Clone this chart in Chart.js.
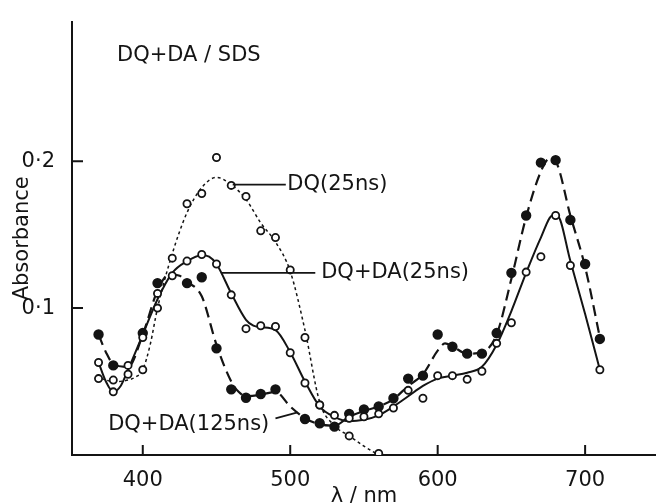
<!DOCTYPE html>
<html>
<head>
<meta charset="utf-8">
<script src="https://cdn.jsdelivr.net/npm/chart.js@4.4.1/dist/chart.umd.min.js"></script>
<style>
  html, body { margin: 0; padding: 0; background: #fff; }
  canvas { display: block; }
</style>
</head>
<body>
<canvas id="myChart" width="662" height="503"></canvas>
<script>
// measured points (nm, absorbance)
const dq25Nm   = [370, 380, 390, 400, 410, 420, 430, 440, 450, 460, 470, 480, 490, 500, 510, 520, 540, 560];
const dq25Abs  = [0.052, 0.051, 0.055, 0.058, 0.100, 0.134, 0.171, 0.178, 0.2025, 0.1835, 0.176, 0.1526, 0.148, 0.126, 0.080, 0.034, 0.013, 0.001];

const mix25Nm  = [370, 380, 390, 400, 410, 420, 430, 440, 450, 460, 470, 480, 490, 500, 510, 520, 530, 540, 550, 560, 570, 580, 590, 600, 610, 620, 630, 640, 650, 660, 670, 680, 690, 710];
const mix25Abs = [0.063, 0.043, 0.061, 0.080, 0.110, 0.122, 0.132, 0.1365, 0.130, 0.109, 0.086, 0.088, 0.0875, 0.0696, 0.049, 0.034, 0.027, 0.025, 0.026, 0.028, 0.032, 0.044, 0.0386, 0.054, 0.054, 0.0515, 0.057, 0.076, 0.090, 0.1245, 0.135, 0.163, 0.129, 0.058];

const mix125Nm  = [370, 380, 400, 410, 430, 440, 450, 460, 470, 480, 490, 510, 520, 530, 540, 550, 560, 570, 580, 590, 600, 610, 620, 630, 640, 650, 660, 670, 680, 690, 700, 710];
const mix125Abs = [0.082, 0.061, 0.083, 0.117, 0.117, 0.121, 0.0726, 0.0447, 0.039, 0.0415, 0.0447, 0.0245, 0.0216, 0.0193, 0.028, 0.031, 0.033, 0.0386, 0.052, 0.054, 0.082, 0.0737, 0.069, 0.069, 0.083, 0.124, 0.163, 0.199, 0.2007, 0.160, 0.130, 0.079];

// hand-drawn smooth curves through the points
const dq25CurveNm  = [372, 380, 390, 395, 400, 405, 410, 420, 430, 440, 450, 460, 470, 480, 490, 500, 510, 520, 530, 540, 550, 560];
const dq25CurveAbs = [0.052, 0.050, 0.051, 0.053, 0.058, 0.075, 0.100, 0.137, 0.165, 0.182, 0.189, 0.184, 0.174, 0.158, 0.145, 0.125, 0.085, 0.036, 0.020, 0.013, 0.006, 0.000];

const mix25CurveNm  = [370, 375, 380, 385, 390, 400, 410, 420, 430, 440, 445, 450, 460, 470, 475, 480, 490, 500, 510, 520, 530, 540, 550, 560, 570, 580, 590, 600, 610, 620, 630, 640, 650, 660, 670, 678, 681, 690, 700, 710];
const mix25CurveAbs = [0.063, 0.050, 0.043, 0.047, 0.058, 0.082, 0.106, 0.124, 0.132, 0.136, 0.135, 0.130, 0.110, 0.092, 0.088, 0.087, 0.085, 0.070, 0.050, 0.033, 0.026, 0.023, 0.024, 0.027, 0.033, 0.040, 0.047, 0.052, 0.054, 0.056, 0.060, 0.075, 0.098, 0.124, 0.148, 0.163, 0.163, 0.132, 0.096, 0.058];

const mix125CurveNm  = [370, 375, 380, 390, 400, 410, 418, 425, 430, 440, 450, 460, 465, 470, 480, 490, 500, 510, 520, 530, 540, 550, 560, 570, 580, 590, 600, 605, 610, 620, 630, 640, 650, 660, 670, 676, 680, 690, 700, 710];
const mix125CurveAbs = [0.082, 0.070, 0.062, 0.060, 0.082, 0.112, 0.123, 0.122, 0.118, 0.108, 0.075, 0.050, 0.043, 0.040, 0.041, 0.043, 0.033, 0.025, 0.021, 0.020, 0.026, 0.030, 0.033, 0.038, 0.047, 0.055, 0.071, 0.076, 0.074, 0.069, 0.070, 0.082, 0.120, 0.162, 0.193, 0.202, 0.200, 0.163, 0.128, 0.080];

const xTicks = [400, 500, 600, 700];
const yTicks = [0.1, 0.2];

const INK = '#141414';
const FONT = '"DejaVu Sans", sans-serif';

function pts(xs, ys) {
    return xs.map((x, i) => ({ x: x, y: ys[i] }));
}

function curve(xs, ys, dash, width) {
    return {
        data: pts(xs, ys),
        showLine: true,
        borderColor: INK,
        borderWidth: width,
        borderDash: dash,
        pointRadius: 0,
        cubicInterpolationMode: 'monotone',
        fill: false,
        order: 2
    };
}

function marks(xs, ys, filled) {
    return {
        data: pts(xs, ys),
        showLine: false,
        pointRadius: filled ? 4.3 : 3.6,
        pointBorderWidth: 1.8,
        pointBorderColor: INK,
        pointBackgroundColor: filled ? INK : '#fff',
        order: 1
    };
}

// inward ticks, labels and leader lines
const annotate = {
    id: 'annotate',
    afterDraw(chart) {
        const { ctx, scales: { x, y }, chartArea } = chart;
        ctx.save();
        ctx.strokeStyle = INK;
        ctx.lineWidth = 2;
        ctx.beginPath();
        xTicks.forEach(v => {
            const px = x.getPixelForValue(v);
            ctx.moveTo(px, chartArea.bottom);
            ctx.lineTo(px, chartArea.bottom - 10);
        });
        yTicks.forEach(v => {
            const py = y.getPixelForValue(v);
            ctx.moveTo(chartArea.left, py);
            ctx.lineTo(chartArea.left + 11, py);
        });
        ctx.stroke();

        ctx.fillStyle = INK;
        ctx.textBaseline = 'middle';
        ctx.font = '21px ' + FONT;
        ctx.fillText('DQ+DA / SDS', x.getPixelForValue(382.5), y.getPixelForValue(0.272));

        const notes = [
            { text: 'DQ(25ns)', from: [461, 0.184], to: [497, 0.184], at: [498, 0.184] },
            { text: 'DQ+DA(25ns)', from: [453, 0.124], to: [517, 0.124], at: [521, 0.124] },
            { text: 'DQ+DA(125ns)', from: [505, 0.029], to: [490, 0.025], at: [376.5, 0.021] }
        ];
        ctx.lineWidth = 1.8;
        notes.forEach(n => {
            ctx.beginPath();
            ctx.moveTo(x.getPixelForValue(n.from[0]), y.getPixelForValue(n.from[1]));
            ctx.lineTo(x.getPixelForValue(n.to[0]), y.getPixelForValue(n.to[1]));
            ctx.stroke();
            ctx.fillText(n.text, x.getPixelForValue(n.at[0]), y.getPixelForValue(n.at[1]));
        });
        ctx.restore();
    }
};

const ctx = document.getElementById('myChart').getContext('2d');
new Chart(ctx, {
    type: 'scatter',
    data: {
        datasets: [
            marks(dq25Nm, dq25Abs, false),
            marks(mix25Nm, mix25Abs, false),
            marks(mix125Nm, mix125Abs, true),
            curve(dq25CurveNm, dq25CurveAbs, [3, 3], 1.5),
            curve(mix25CurveNm, mix25CurveAbs, [], 2),
            curve(mix125CurveNm, mix125CurveAbs, [11, 6], 2.2)
        ]
    },
    options: {
        responsive: false,
        animation: false,
        layout: { padding: { left: 0, right: 0, top: 21, bottom: 0 } },
        plugins: { legend: { display: false }, tooltip: { enabled: false } },
        scales: {
            x: {
                type: 'linear',
                min: 352,
                max: 748,
                afterBuildTicks: axis => { axis.ticks = xTicks.map(v => ({ value: v })); },
                afterFit: axis => { axis.height = 48; },
                grid: { display: false },
                border: { display: true, color: INK, width: 2 },
                ticks: { color: INK, font: { family: FONT, size: 21 }, padding: 5, maxRotation: 0 },
                title: {
                    display: true,
                    text: 'λ / nm',
                    color: INK,
                    font: { family: FONT, size: 21, lineHeight: 1 },
                    padding: { top: 0, bottom: -4 }
                }
            },
            y: {
                min: 0,
                max: 0.295,
                afterBuildTicks: axis => { axis.ticks = yTicks.map(v => ({ value: v })); },
                afterFit: axis => { axis.width = 72; },
                grid: { display: false },
                border: { display: true, color: INK, width: 2 },
                ticks: {
                    color: INK,
                    font: { family: FONT, size: 21 },
                    padding: 9,
                    callback: v => v.toFixed(1).replace('.', '·')
                },
                title: {
                    display: true,
                    text: 'Absorbance',
                    color: INK,
                    font: { family: FONT, size: 21, lineHeight: 1 },
                    padding: { top: 12, bottom: 0 }
                }
            }
        }
    },
    plugins: [annotate]
});
</script>
</body>
</html>
